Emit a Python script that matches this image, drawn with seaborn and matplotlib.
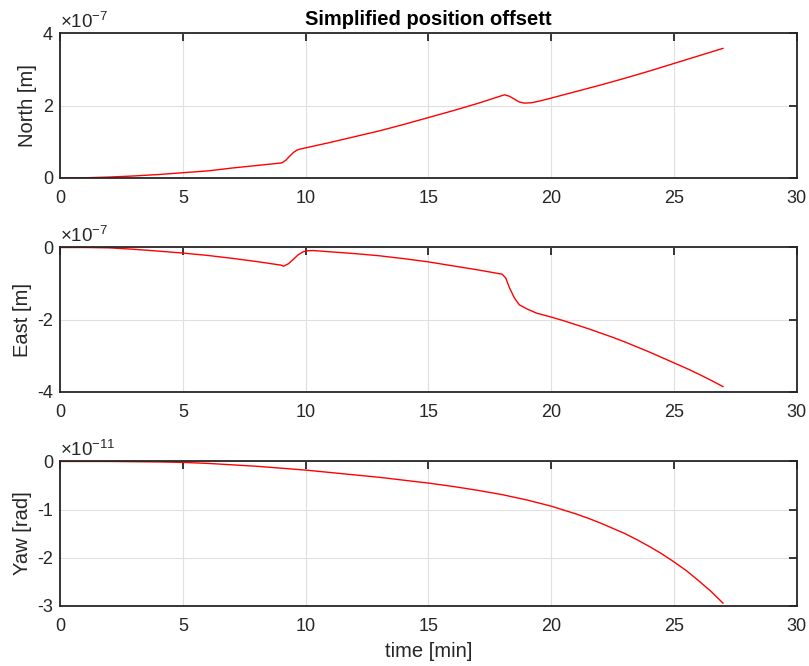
import numpy as np
import pandas as pd
import matplotlib
matplotlib.use("Agg")
import matplotlib.pyplot as plt
import seaborn as sns
from matplotlib.ticker import FuncFormatter

# ---- data ----
t_north = [0, 1, 2, 3, 4, 5, 6, 7, 8, 9, 9.05, 9.2, 9.35, 9.5, 9.65, 9.8, 10,
           11, 12, 13, 14, 15, 16, 17, 18, 18.1, 18.3, 18.5, 18.7, 18.9, 19.2,
           19.6, 20, 21, 22, 23, 24, 25, 26, 27]
north = [0, 0.0, 0.02, 0.05, 0.09, 0.14, 0.19, 0.27, 0.34, 0.41, 0.42, 0.49,
         0.60, 0.70, 0.77, 0.80, 0.83, 0.98, 1.14, 1.30, 1.48, 1.67, 1.86,
         2.06, 2.28, 2.30, 2.26, 2.18, 2.10, 2.07, 2.08, 2.14, 2.21, 2.39,
         2.57, 2.76, 2.96, 3.17, 3.38, 3.59]

t_east = [0, 1, 2, 3, 4, 5, 6, 7, 8, 9, 9.1, 9.3, 9.5, 9.7, 9.9, 10.1, 10.3,
          11, 12, 13, 14, 15, 16, 17, 18, 18.15, 18.3, 18.5, 18.7, 19.0, 19.4,
          20, 20.5, 21, 21.5, 22, 22.5, 23, 23.5, 24, 24.5, 25, 25.5, 26,
          26.5, 27]
east = [0, 0.0, -0.01, -0.05, -0.10, -0.155, -0.22, -0.30, -0.39, -0.49,
        -0.52, -0.45, -0.33, -0.20, -0.12, -0.09, -0.085, -0.12, -0.17,
        -0.23, -0.31, -0.40, -0.51, -0.62, -0.74, -0.85, -1.12, -1.40,
        -1.59, -1.70, -1.82, -1.93, -2.03, -2.14, -2.25, -2.37, -2.49,
        -2.62, -2.76, -2.90, -3.05, -3.20, -3.35, -3.51, -3.68, -3.86]

t_yaw = [0, 1, 2, 3, 4, 5, 6, 7, 8, 9, 10, 11, 12, 13, 14, 15, 16, 17, 18,
         19, 20, 20.5, 21, 21.5, 22, 22.5, 23, 23.5, 24, 24.5, 25, 25.5, 26,
         26.5, 27]
yaw = [0, 0, 0, -0.005, -0.01, -0.02, -0.04, -0.07, -0.10, -0.14, -0.18,
       -0.23, -0.28, -0.33, -0.39, -0.45, -0.52, -0.60, -0.69, -0.80, -0.93,
       -1.01, -1.09, -1.18, -1.28, -1.39, -1.50, -1.63, -1.77, -1.92, -2.09,
       -2.27, -2.48, -2.70, -2.95]

north_exp = -7
east_exp = -7
yaw_exp = -11

title = "Simplified position offsett"
ylabels = ["North [m]", "East [m]", "Yaw [rad]"]
xlabel = "time [min]"
xticks = [0, 5, 10, 15, 20, 25, 30]

# ---- style ----
sns.set_style("white")
plt.rcParams["font.family"] = ["Liberation Sans", "DejaVu Sans"]
plt.rcParams["mathtext.fontset"] = "custom"
plt.rcParams["mathtext.rm"] = "Liberation Sans"
plt.rcParams["mathtext.it"] = "Liberation Sans"
plt.rcParams["axes.unicode_minus"] = False

dark = "#262626"

fig, axes = plt.subplots(3, 1, figsize=(8.09, 6.66), dpi=100)
fig.subplots_adjust(left=0.0742, right=0.985, top=0.9497, bottom=0.0905,
                    hspace=0.483)

series = [
    (t_north, north, north_exp, (0, 4), [0, 2, 4]),
    (t_east, east, east_exp, (-4, 0), [-4, -2, 0]),
    (t_yaw, yaw, yaw_exp, (-3, 0), [-3, -2, -1, 0]),
]

for ax, (tx, vals, ex, ylim, yt), yl in zip(axes, series, ylabels):
    scale = 10.0 ** ex
    df = pd.DataFrame({"t": tx, "v": np.array(vals) * scale})
    sns.lineplot(data=df, x="t", y="v", ax=ax, color="#ff0000", linewidth=1.0)
    ax.set_xlim(0, 30)
    ax.set_ylim(ylim[0] * scale, ylim[1] * scale)
    ax.set_xticks(xticks)
    ax.set_yticks([v * scale for v in yt])
    ax.yaxis.set_major_formatter(
        FuncFormatter(lambda v, p, s=scale: "%g" % round(v / s, 6)))
    ax.text(0.0, 1.012, r"$\times$10$^{\mathregular{%d}}$" % ex,
            transform=ax.transAxes, ha="left", va="bottom", fontsize=13.5,
            color=dark)
    ax.grid(True, color="#e0e0e0", linewidth=0.8)
    ax.set_axisbelow(True)
    ax.tick_params(direction="in", top=True, right=True, length=6, width=1.3,
                   labelsize=13, colors=dark)
    ax.tick_params(axis="x", pad=9)
    ax.tick_params(axis="y", pad=5)
    for s in ax.spines.values():
        s.set_visible(True)
        s.set_color(dark)
        s.set_linewidth(1.3)
    ax.set_ylabel(yl, fontsize=14.5, color=dark, labelpad=4)
    ax.set_xlabel("")

axes[0].set_title(title, fontsize=14.5, fontweight="bold", color="black",
                  pad=6)
axes[2].set_xlabel(xlabel, fontsize=14.5, color=dark, labelpad=5)

fig.savefig("out.png", dpi=100, facecolor="white")
